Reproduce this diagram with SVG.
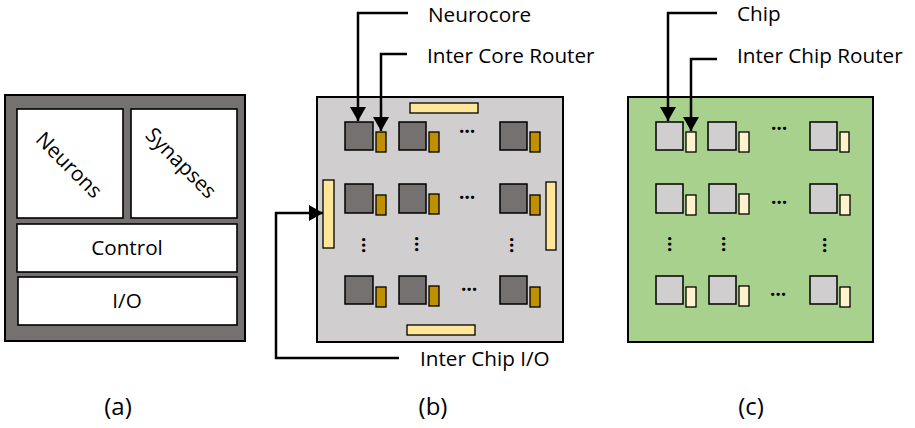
<svg xmlns="http://www.w3.org/2000/svg" width="915" height="428" viewBox="0 0 915 428">
<style>
text{font-family:"Open Sans","Liberation Sans",sans-serif;fill:#000}
.lbl{font-size:20.7px}
.cap{font-size:24px}
.dots{font-size:19px;font-weight:bold}
.blk{fill:#fff;stroke:#000;stroke-width:1.6}
.core{fill:#767171;stroke:#000;stroke-width:1.5}
.rt{fill:#bf9000;stroke:#000;stroke-width:1.3}
.chip{fill:#d0cece;stroke:#000;stroke-width:1.5}
.crt{fill:#fff2cc;stroke:#000;stroke-width:1.3}
.bar{fill:#ffe699;stroke:#000;stroke-width:1.3}
.con{fill:none;stroke:#000;stroke-width:2.5}
</style>
<defs>
<marker id="ah" viewBox="0 0 14 16" refX="14" refY="8" markerWidth="14" markerHeight="16" markerUnits="userSpaceOnUse" orient="auto">
<path d="M0,0 L14,8 L0,16 Z" fill="#000"/>
</marker>
</defs>

<g id="panel-a">
<rect x="5" y="95" width="240" height="246" fill="#757171" stroke="#000" stroke-width="2"/>
<g id="neurons"><rect class="blk" x="17" y="109" width="106" height="109"/>
<text class="lbl" x="69" y="172" text-anchor="middle" transform="rotate(45 69 165)">Neurons</text></g>
<g id="synapses"><rect class="blk" x="131" y="109" width="106" height="109"/>
<text class="lbl" x="181" y="170" text-anchor="middle" transform="rotate(45 181 163)">Synapses</text></g>
<g id="control"><rect class="blk" x="17" y="224" width="220" height="48"/>
<text class="lbl" x="127" y="255" text-anchor="middle">Control</text></g>
<g id="io"><rect class="blk" x="18" y="277" width="219" height="48"/>
<text class="lbl" x="127" y="308" text-anchor="middle">I/O</text></g>
</g>

<g id="panel-b">
<rect x="317" y="97" width="246" height="245" fill="#d0cece" stroke="#000" stroke-width="2"/>
<rect class="bar" x="410" y="103" width="68" height="10"/>
<rect class="bar" x="323" y="180" width="11" height="68"/>
<rect class="bar" x="546" y="182" width="10" height="68"/>
<rect class="bar" x="407" y="325" width="68" height="10"/>
<g id="cores">
<rect class="core" x="345" y="122" width="28" height="28"/><rect class="rt" x="376" y="132" width="10" height="20"/>
<rect class="core" x="399" y="122" width="27" height="28"/><rect class="rt" x="429" y="132" width="10" height="20"/>
<rect class="core" x="500" y="122" width="27" height="28"/><rect class="rt" x="530" y="132" width="10" height="20"/>
<rect class="core" x="345" y="184" width="28" height="29"/><rect class="rt" x="376" y="195" width="10" height="20"/>
<rect class="core" x="399" y="184" width="27" height="29"/><rect class="rt" x="429" y="194" width="10" height="20"/>
<rect class="core" x="500" y="184" width="27" height="29"/><rect class="rt" x="530" y="195" width="10" height="20"/>
<rect class="core" x="345" y="276" width="28" height="28"/><rect class="rt" x="376" y="287" width="10" height="20"/>
<rect class="core" x="399" y="276" width="27" height="28"/><rect class="rt" x="429" y="286" width="10" height="20"/>
<rect class="core" x="500" y="276" width="27" height="28"/><rect class="rt" x="530" y="287" width="10" height="20"/>
</g>
<text class="dots" x="467" y="133" text-anchor="middle">…</text>
<text class="dots" x="467" y="199" text-anchor="middle">…</text>
<text class="dots" x="469" y="291" text-anchor="middle">…</text>
<text class="dots" x="364" y="245" text-anchor="middle" transform="rotate(90 364 245)" dy="2">…</text>
<text class="dots" x="417" y="244" text-anchor="middle" transform="rotate(90 417 244)" dy="2">…</text>
<text class="dots" x="512" y="245" text-anchor="middle" transform="rotate(90 512 245)" dy="2">…</text>
</g>

<g id="panel-c">
<rect x="628" y="97" width="245" height="245" fill="#a9d18e" stroke="#000" stroke-width="2"/>
<g id="chips">
<rect class="chip" x="656" y="122" width="27" height="28"/><rect class="crt" x="686" y="132" width="10" height="20"/>
<rect class="chip" x="708" y="122" width="28" height="28"/><rect class="crt" x="739" y="132" width="10" height="20"/>
<rect class="chip" x="810" y="122" width="27" height="28"/><rect class="crt" x="840" y="132" width="9" height="20"/>
<rect class="chip" x="656" y="184" width="27" height="29"/><rect class="crt" x="686" y="195" width="10" height="20"/>
<rect class="chip" x="709" y="184" width="27" height="29"/><rect class="crt" x="739" y="194" width="10" height="20"/>
<rect class="chip" x="810" y="184" width="27" height="29"/><rect class="crt" x="840" y="195" width="10" height="20"/>
<rect class="chip" x="656" y="276" width="27" height="28"/><rect class="crt" x="686" y="287" width="10" height="20"/>
<rect class="chip" x="709" y="276" width="27" height="28"/><rect class="crt" x="739" y="286" width="10" height="20"/>
<rect class="chip" x="810" y="276" width="27" height="28"/><rect class="crt" x="840" y="287" width="10" height="20"/>
</g>
<text class="dots" x="779" y="130" text-anchor="middle">…</text>
<text class="dots" x="779" y="204" text-anchor="middle">…</text>
<text class="dots" x="778" y="296" text-anchor="middle">…</text>
<text class="dots" x="670" y="244" text-anchor="middle" transform="rotate(90 670 244)" dy="2">…</text>
<text class="dots" x="724" y="244" text-anchor="middle" transform="rotate(90 724 244)" dy="2">…</text>
<text class="dots" x="825" y="245" text-anchor="middle" transform="rotate(90 825 245)" dy="2">…</text>
</g>

<g id="connectors">
<path class="con" d="M408,13 H358 V121" marker-end="url(#ah)"/>
<path class="con" d="M407,54 H381 V131" marker-end="url(#ah)"/>
<path class="con" d="M399,358 H276 V213 H323" marker-end="url(#ah)"/>
<path class="con" d="M717,13 H668 V121" marker-end="url(#ah)"/>
<path class="con" d="M717,59 H691 V131" marker-end="url(#ah)"/>
</g>

<g id="labels">
<text class="lbl" x="428" y="22">Neurocore</text>
<text class="lbl" x="427" y="63">Inter Core Router</text>
<text class="lbl" x="420" y="366">Inter Chip I/O</text>
<text class="lbl" x="737" y="21">Chip</text>
<text class="lbl" x="737" y="63">Inter Chip Router</text>
<text class="cap" x="118" y="415" text-anchor="middle">(a)</text>
<text class="cap" x="433" y="415" text-anchor="middle">(b)</text>
<text class="cap" x="751" y="415" text-anchor="middle">(c)</text>
</g>
</svg>
